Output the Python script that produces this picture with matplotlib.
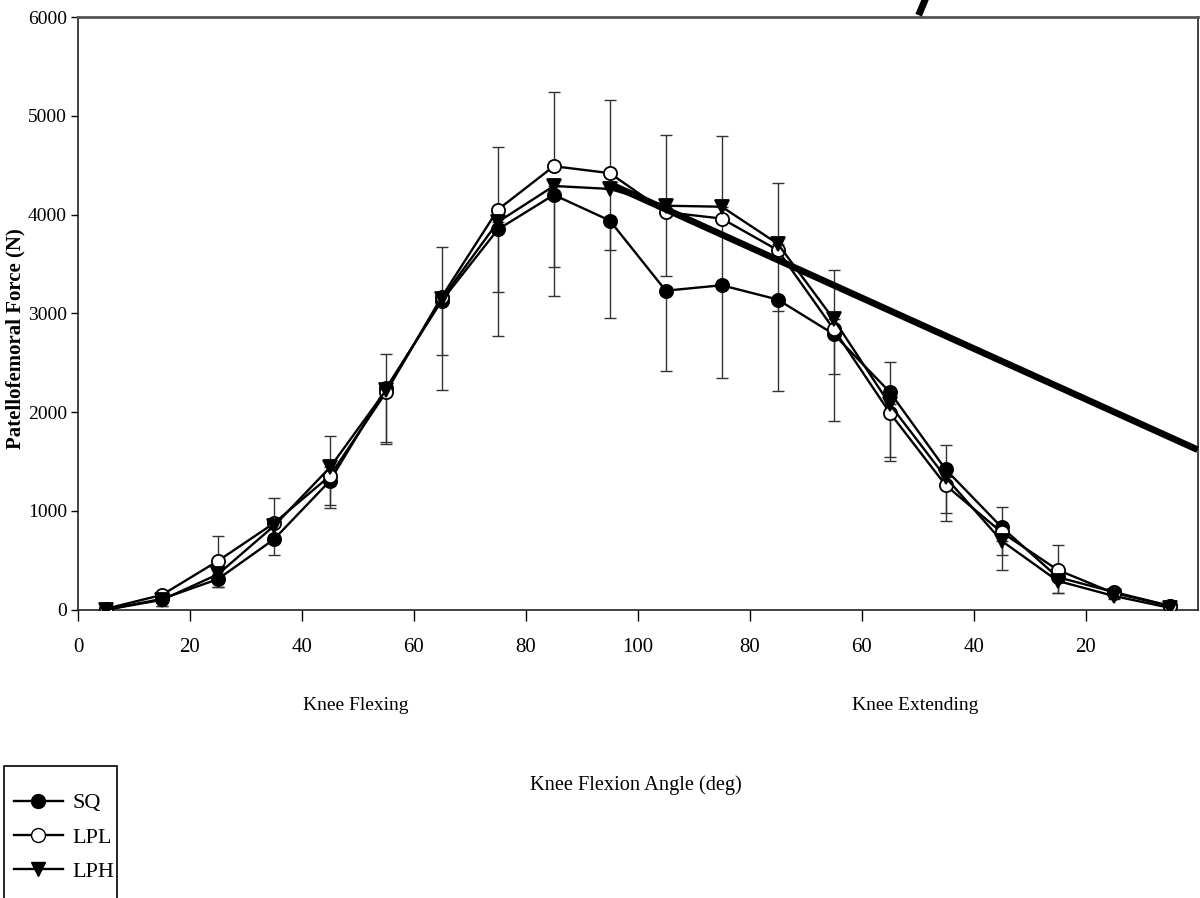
''' Patellofemoral force vs knee angle '''
from matplotlib import pyplot as plt
from matplotlib.lines import Line2D
from matplotlib.patches import Rectangle
import numpy as np

# knee angle positions (flexing 5..95, then extending 95..5 on the same axis)
angle_pos = [5, 15, 25, 35, 45, 55, 65, 75, 85, 95,
             105, 115, 125, 135, 145, 155, 165, 175, 185, 195]
tick_pos = [0, 20, 40, 60, 80, 100, 120, 140, 160, 180]
tick_labels = ['0', '20', '40', '60', '80', '100', '80', '60', '40', '20']

sq = [0, 110, 310, 713, 1305, 2240, 3130, 3850, 4200, 3940,
      3230, 3285, 3140, 2790, 2205, 1420, 835, 330, 180, 40]
lpl = [10, 150, 494, 876, 1355, 2200, 3170, 4050, 4490, 4420,
       4025, 3960, 3640, 2840, 1995, 1260, 784, 403, 170, 40]
lph = [0, 100, 359, 848, 1440, 2220, 3150, 3925, 4290, 4260,
       4090, 4080, 3705, 2940, 2080, 1340, 697, 292, 140, 20]

# one-sided standard deviations as drawn
lpl_up = [0, 30, 250, 252, 400, 390, 502, 632, 755, 737,
          781, 836, 676, 600, 513, 410, 256, 253, 40, 10]
sq_down = [0, 70, 82, 161, 275, 560, 905, 1082, 1027, 990,
           816, 942, 925, 879, 699, 520, 432, 163, 30, 10]
lph_down = [0, 60, 130, 150, 382, 520, 574, 712, 823, 622,
            712, 790, 685, 556, 537, 360, 142, 120, 30, 10]

# thick line drawn over the chart
trend_x = [95, 200]
trend_y = [4310, 1620]

plt.rcParams['font.family'] = ['Liberation Serif', 'DejaVu Serif']

fig = plt.figure(figsize=(12, 8.98), dpi=100)
ax = fig.add_axes([0.065, 0.321, 0.933, 0.660])

zeros = np.zeros(len(angle_pos))
ebar = dict(fmt='none', ecolor='#333333', elinewidth=1.0, capsize=4.5, capthick=1.0, zorder=2)
ax.errorbar(angle_pos, lpl, yerr=[zeros, lpl_up], **ebar)
ax.errorbar(angle_pos, sq, yerr=[sq_down, zeros], **ebar)
ax.errorbar(angle_pos, lph, yerr=[lph_down, zeros], **ebar)

line_kw = dict(color='black', lw=1.7, ms=9.5, mew=1.3, zorder=3)
ax.plot(angle_pos, sq, marker='o', mfc='black', mec='black', label='SQ', **line_kw)
ax.plot(angle_pos, lpl, marker='o', mfc='white', mec='black', label='LPL', **line_kw)
ax.plot(angle_pos, lph, marker='v', mfc='black', mec='black', label='LPH', **line_kw)

ax.plot(trend_x, trend_y, color='black', lw=4.8, solid_capstyle='butt', zorder=4, clip_on=False)

ax.set_xlim(0, 200)
ax.set_ylim(0, 6000)
ax.set_xticks(tick_pos)
ax.set_xticklabels(tick_labels, fontsize=15)
ax.set_yticks([0, 1000, 2000, 3000, 4000, 5000, 6000])
ax.tick_params(axis='y', labelsize=14, length=5, width=1, direction='out', pad=3)
ax.tick_params(axis='x', length=8, width=1, direction='out', pad=12)
for s in ax.spines.values():
    s.set_linewidth(1.2)
    s.set_color('#222222')
ax.spines['top'].set_linewidth(2.0)
ax.spines['top'].set_color('#555555')

fig.text(15 / 1200, 1 - 339 / 898, 'Patellofemoral Force (N)', fontsize=15, fontweight='bold',
         rotation=90, ha='center', va='center')

fig.text(356 / 1200, 1 - 705 / 898, 'Knee Flexing', fontsize=14, ha='center', va='center')
fig.text(915 / 1200, 1 - 705 / 898, 'Knee Extending', fontsize=14, ha='center', va='center')
fig.text(636 / 1200, 1 - 785 / 898, 'Knee Flexion Angle (deg)', fontsize=14.7, ha='center', va='center')

# legend box runs off the bottom edge
fig.patches.append(Rectangle((4 / 1200, -0.01), 113 / 1200, 0.157, transform=fig.transFigure,
                             fill=False, edgecolor='black', lw=1.2))
handles = [Line2D([], [], color='black', lw=1.7, marker='o', mfc='black', mec='black', ms=10),
           Line2D([], [], color='black', lw=1.7, marker='o', mfc='white', mec='black', ms=10),
           Line2D([], [], color='black', lw=1.7, marker='v', mfc='black', mec='black', ms=10)]
fig.legend(handles, ['SQ', 'LPL', 'LPH'], loc='upper left', bbox_to_anchor=(0.004, 0.127),
           frameon=False, fontsize=16, handlelength=2.2, handletextpad=0.45, labelspacing=0.62,
           borderaxespad=0)

# stray cropped mark at the top edge
fig.add_artist(Line2D([925 / 1200, 920 / 1200], [1.0, 1 - 12 / 898], transform=fig.transFigure,
                      color='black', lw=5))

fig.savefig('out.png', dpi=100)
plt.close()
